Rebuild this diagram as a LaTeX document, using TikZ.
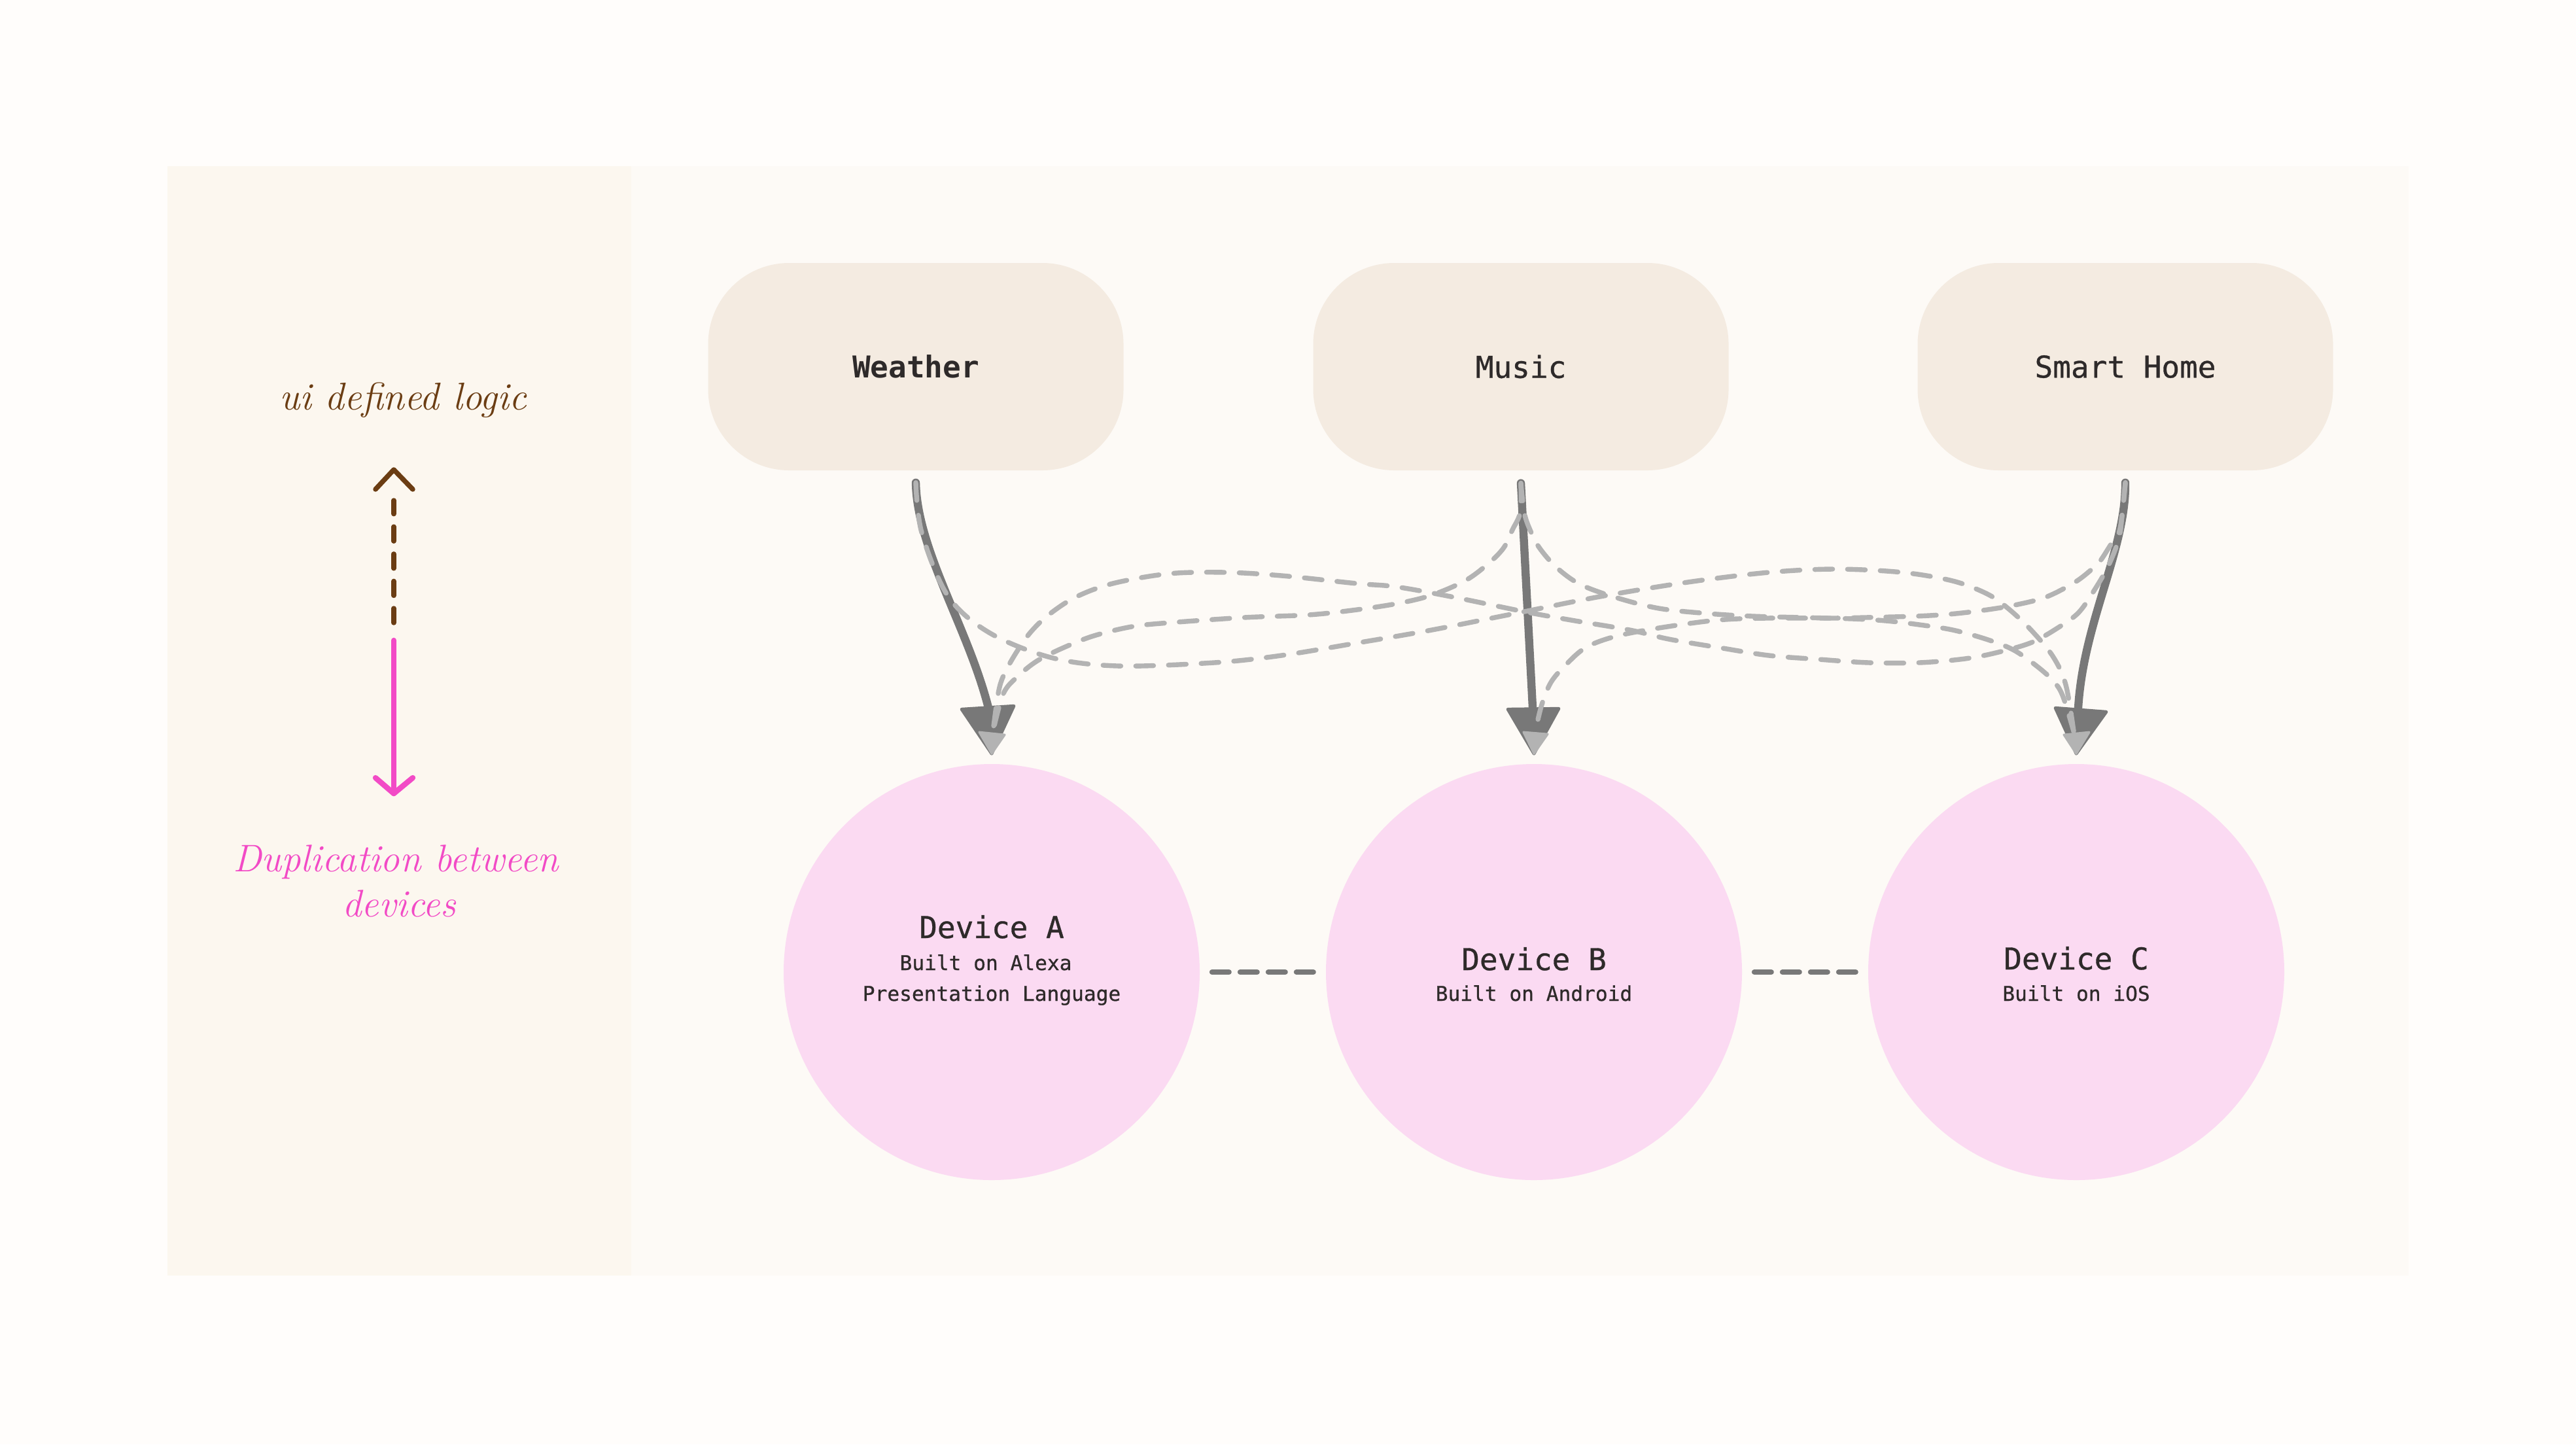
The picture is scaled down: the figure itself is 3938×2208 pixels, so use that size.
\documentclass[tikz,border=0pt]{standalone}
\usepackage{fontspec}
\newfontfamily\monof[FakeBold=0.7]{DejaVu Sans Mono}
\newfontfamily\monobold{DejaVu Sans Mono Bold}
\definecolor{pagebg}{HTML}{FFFDFB}
\definecolor{leftpanel}{HTML}{FCF7EF}
\definecolor{rightpanel}{HTML}{FDFAF6}
\definecolor{svcfill}{HTML}{F4EBE1}
\definecolor{devfill}{HTML}{FBDAF2}
\definecolor{darkarrow}{HTML}{787878}
\definecolor{lightdash}{HTML}{B3B3B3}
\definecolor{inktext}{HTML}{2E2A2A}
\definecolor{brownink}{HTML}{6B3D13}
\definecolor{pinkink}{HTML}{F24BC6}
\tikzset{
  svcbox/.style={fill=svcfill, rounded corners=31pt, minimum width=158.75pt, minimum height=79.25pt,
    inner sep=0pt, text=inktext, font=\monof\fontsize{11.5}{14}\selectfont},
  devcircle/.style={circle, fill=devfill, minimum size=159pt, inner sep=0pt},
  devtitle/.style={anchor=base, inner sep=0pt, text=inktext, font=\monof\fontsize{11.5}{14}\selectfont},
  devsub/.style={anchor=base, inner sep=0pt, text=inktext, font=\monof\fontsize{7.8}{10}\selectfont},
  devlink/.style={draw=darkarrow, line width=2pt, line cap=round, dash pattern=on 6.5pt off 4.25pt},
  darkshaft/.style={draw=darkarrow, line width=3.1pt, line cap=round},
  darkhead/.style={fill=darkarrow, draw=darkarrow, line width=1.2pt, line join=round},
  lightcurve/.style={draw=lightdash, line width=1.85pt, line cap=round, dash pattern=on 6.8pt off 5.7pt},
  lighthead/.style={fill=lightdash, draw=lightdash, line width=0.8pt, line join=round},
  handbrown/.style={anchor=base, inner sep=0pt, text=brownink, font=\itshape\fontsize{14.8}{17}\selectfont},
  handpink/.style={anchor=base, inner sep=0pt, text=pinkink, font=\itshape\fontsize{14.7}{17}\selectfont}
}
\begin{document}
\begin{tikzpicture}[x=0.25pt,y=-0.25pt]
\useasboundingbox (0,0) rectangle (3938,2208);
\fill[pagebg] (0,0) rectangle (3938,2208);
% panels
\fill[rightpanel] (964,254) rectangle (3682,1950);
\fill[leftpanel] (256,254) rectangle (965,1950);

% service boxes
\node[svcbox] (weather) at (1400,560.5) {\monobold Weather};
\node[svcbox] (music) at (2325,560.5) {Music};
\node[svcbox] (smarthome) at (3249,560.5) {Smart Home};

% devices
\node[devcircle] (devA) at (1516,1486) {};
\node[devcircle] (devB) at (2345,1486) {};
\node[devcircle] (devC) at (3174,1486) {};
\node[devtitle] (devAt) at (1516,1434) {Device A};
\node[devsub] (devAs1) at (1507,1483) {Built on Alexa};
\node[devsub] (devAs2) at (1516,1530) {Presentation Language};
\node[devtitle] (devBt) at (2345,1483) {Device B};
\node[devsub] (devBs) at (2345,1530) {Built on Android};
\node[devtitle] (devCt) at (3174,1482) {Device C};
\node[devsub] (devCs) at (3174,1530) {Built on iOS};

\draw[devlink] ([xshift=4.5pt]devA.east) -- ([xshift=-4.25pt]devB.west);
\draw[devlink] ([xshift=4.5pt]devB.east) -- ([xshift=-4.25pt]devC.west);

% connector anchors
\coordinate (wOut) at ([yshift=-4.5pt]weather.south);
\coordinate (mOut) at ([yshift=-4.7pt]music.south);
\coordinate (sOut) at ([yshift=-4.5pt]smarthome.south);
\coordinate (aTip) at ([yshift=3.75pt]devA.north);
\coordinate (bTip) at ([yshift=3.75pt]devB.north);
\coordinate (cTip) at ([yshift=3.75pt]devC.north);
\coordinate (aBase) at (1511,1082);
\coordinate (bBase) at (2343,1082);
\coordinate (cBase) at (3177,1082);
\coordinate (aLight) at (1518,1118);
\coordinate (bLight) at (2347,1118);
\coordinate (cLight) at (3170,1118);

% dark main arrows
\draw[darkshaft] (wOut) .. controls +(2,103) and +(-31,-122) .. (aBase);
\draw[darkshaft] (mOut) -- (bBase);
\draw[darkshaft] (sOut) .. controls +(1,103) and +(8,-132) .. (cBase);
\path[darkhead] (aTip) -- ++(-46,-68) -- ++(80,-5) -- cycle;
\path[darkhead] (bTip) -- ++(-40,-68) -- ++(78,-1) -- cycle;
\path[darkhead] (cTip) -- ++(-32,-70) -- ++(78,6) -- cycle;

% light dashed cross connections
% Weather -> Device C
\draw[lightcurve] plot[smooth, tension=0.55] coordinates {(wOut) (1409,814) (1449,911) (1512,967) (1606,1005) (1708,1018) (1856,1013) (1959,1002) (2074,983) (2189,963) (2330,935) (2446,912) (2580,890) (2704,875) (2806,870) (2908,875) (2985,888) (3036,907) (3066,927) (3102,960) (3138,1003) (3158,1047) (cLight)};
% Smart Home -> Device A
\draw[lightcurve] plot[smooth, tension=0.55] coordinates {(sOut) (3244,788) (3239,824) (3223,865) (3203,900) (3178,936) (3147,959) (3106,982) (3055,997) (3004,1007) (2934,1013) (2857,1013) (2781,1008) (2704,1002) (2628,990) (2551,977) (2491,963) (2402,948) (2330,935) (2223,913) (2134,897) (2074,892) (1959,880) (1873,875) (1787,877) (1701,892) (1644,913) (1603,940) (1575,967) (1552,1000) (1534,1033) (1526,1060) (aLight)};
% Music -> Device A
\draw[lightcurve] plot[smooth, tension=0.55] coordinates {(mOut) (2324,783) (2312,810) (2299,837) (2277,860) (2241,887) (2188,910) (2134,923) (2067,933) (2000,940) (1902,944) (1787,952) (1730,958) (1672,972) (1626,990) (1586,1010) (1557,1033) (1534,1060) (aLight)};
% Music -> Device C
\draw[lightcurve] plot[smooth, tension=0.55] coordinates {(mOut) (2330,783) (2339,810) (2353,837) (2379,867) (2415,893) (2469,913) (2536,930) (2612,938) (2679,942) (2755,944) (2832,946) (2883,949) (2934,955) (2985,963) (3036,977) (3077,993) (3112,1017) (3138,1040) (3153,1063) (cLight)};
% Smart Home -> Device B
\draw[lightcurve] plot[smooth, tension=0.55] coordinates {(sOut) (3244,788) (3239,815) (3229,829) (3211,857) (3198,870) (3172,890) (3127,913) (3075,926) (3024,934) (2979,939) (2928,942) (2851,944) (2800,945) (2700,945) (2625,948) (2536,960) (2469,973) (2424,990) (2393,1017) (2371,1043) (2357,1077) (bLight)};
\path[lighthead] (aTip) -- ++(-19,-33) -- ++(39,4) -- cycle;
\path[lighthead] (bTip) -- ++(-16,-33) -- ++(37,3) -- cycle;
\path[lighthead] (cTip) -- ++(-19,-29) -- ++(39,-4) -- cycle;

% left legend
\node[handbrown] (uilabel) at (616,626) {ui defined logic};
\node[handpink] (dupl1) at (605,1332) {Duplication between};
\node[handpink] (dupl2) at (610,1401) {devices};
\coordinate (brownTip) at (602,718);
\coordinate (brownTop) at (602,765);
\coordinate (brownBot) at (602,952);
\coordinate (pinkTop) at (602,979);
\coordinate (pinkTip) at (602,1213);
\draw[brownink, line width=1.875pt, line cap=round, dash pattern=on 5.5pt off 4.9pt] (brownBot) -- (brownTop);
\draw[brownink, line width=1.875pt, line cap=round, line join=round] ([shift={(-28,30)}]brownTip) -- (brownTip) -- ([shift={(29,30)}]brownTip);
\draw[pinkink, line width=2.1pt, line cap=round] (pinkTop) -- (pinkTip);
\draw[pinkink, line width=2.1pt, line cap=round, line join=round] ([shift={(-28,-24)}]pinkTip) -- (pinkTip) -- ([shift={(29,-24)}]pinkTip);
\end{tikzpicture}
\end{document}
